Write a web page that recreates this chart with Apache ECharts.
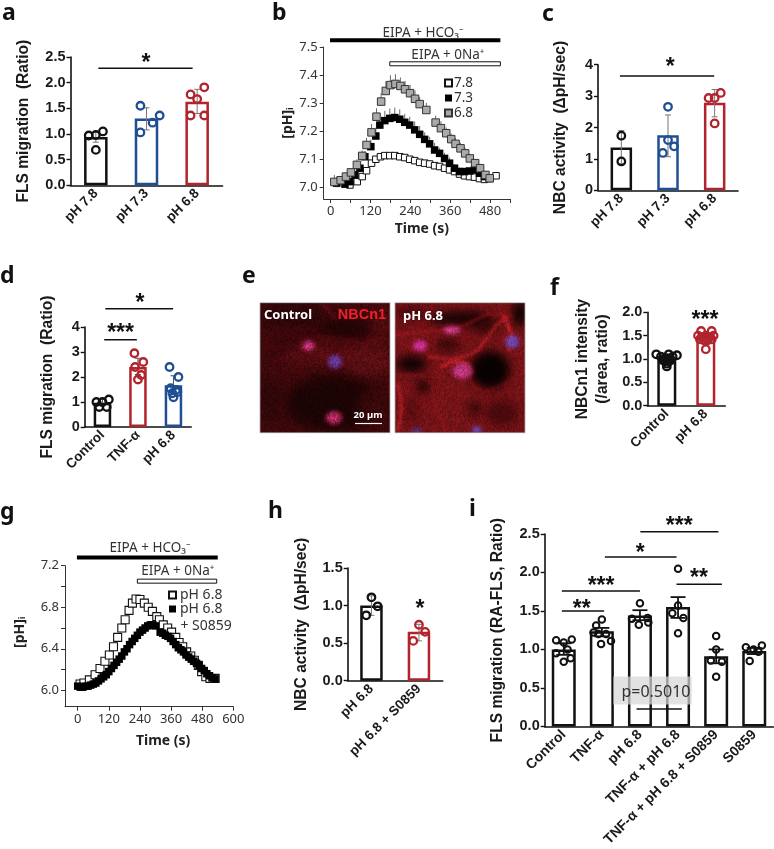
<!DOCTYPE html>
<html><head><meta charset="utf-8">
<script src="https://cdn.jsdelivr.net/npm/echarts@6/dist/echarts.min.js"></script>
<style>html,body{margin:0;padding:0;background:#fff}#c{width:774px;height:849px}</style></head>
<body><div id="c"></div>
<script>
// ---------- data ----------
const BLACK='#111111',BLUE='#1f4e94',RED='#b2232c';
// a
const aCats=['pH 7.8','pH 7.3','pH 6.8'];
const aBars=[0.94,1.30,1.63];
const aErrLow=[0.84,1.08,1.40];
const aErrHigh=[1.04,1.51,1.87];
const aPoints=[[0,-.14,.97],[0,0,.98],[0,.14,1.05],[0,0,.69],[1,-.12,1.55],[1,.26,1.36],[1,.12,1.22],[1,-.12,1.03],[2,.14,1.91],[2,-.13,1.77],[2,0,1.68],[2,-.13,1.36],[2,.14,1.36]];
// c
const cCats=['pH 7.8','pH 7.3','pH 6.8'];
const cBars=[1.36,1.75,2.79];
const cErrLow=[.85,1.07,2.34];
const cErrHigh=[1.9,2.4,3.21];
const cPoints=[[0,0,1.74],[0,0,.92],[1,0,2.66],[1,0,1.6],[1,.13,1.4],[1,-.11,1.19],[2,.13,3.1],[2,0,2.94],[2,-.13,2.94],[2,0,2.13]];
// d
const dCats=['Control','TNF-α','pH 6.8'];
const dBars=[.97,2.4,1.67];
const dErrLow=[.85,2.1,1.35];
const dErrHigh=[1.1,2.75,2.05];
const dPoints=[[0,-.17,1],[0,.18,1.1],[0,0,1],[0,-.09,.8],[0,.12,.8],[1,-.1,2.95],[1,.15,2.6],[1,-.08,2.4],[1,.09,2.08],[1,0,1.9],[2,-.11,2.4],[2,.14,2.0],[2,-.08,1.55],[2,.07,1.48],[2,0,1.19],[2,.11,1.4],[2,-.03,1.35]];
// f
const fCats=['Control','pH 6.8'];
const fBars=[1.0,1.5];
const fErrLow=[.97,1.45];
const fErrHigh=[1.03,1.55];
const fPoints=[[0,-.27,1.1],[0,.26,1.08],[0,.05,1.1],[0,-.15,1.05],[0,.15,1.05],[0,-.08,1.0],[0,0,1.02],[0,.08,1.0],[0,-.05,.95],[0,.05,.95],[0,0,.9],[0,0,.84],[0,-.1,.97],[0,.1,.97],[1,-.12,1.6],[1,.15,1.6],[1,-.2,1.5],[1,-.1,1.47],[1,0,1.45],[1,.1,1.47],[1,.2,1.5],[1,0,1.5],[1,-.05,1.4],[1,.05,1.4],[1,-.15,1.42],[1,.15,1.42],[1,0,1.21]];
// h
const hCats=['pH 6.8','pH 6.8 + S0859'];
const hBars=[1.0,.65];
const hErrLow=[.87,.53];
const hErrHigh=[1.13,.75];
const hPoints=[[0,0,1.11],[0,.13,.99],[0,-.11,.87],[1,0,.745],[1,.13,.65],[1,-.12,.53]];
// i
const iCats=['Control','TNF-α','pH 6.8','TNF-α + pH 6.8','TNF-α + pH 6.8 + S0859','S0859'];
const iBars=[1.0,1.235,1.44,1.55,.91,.98];
const iErrLow=[.93,1.17,1.38,1.41,.82,.94];
const iErrHigh=[1.08,1.28,1.51,1.68,1.0,1.02];
const iPoints=[[0,-.2,1.12],[0,.21,1.13],[0,0,1.09],[0,-.2,.95],[0,.18,.885],[0,0,.84],[0,.1,1.0],
[1,0,1.39],[1,-.15,1.31],[1,-.22,1.22],[1,-.09,1.2],[1,.11,1.2],[1,.24,1.11],[1,-.02,1.07],
[2,0,1.6],[2,-.21,1.4],[2,.2,1.41],[2,-.03,1.32],[2,.22,1.35],
[3,0,2.05],[3,0,1.57],[3,-.15,1.47],[3,.14,1.41],[3,0,1.21],
[4,0,1.175],[4,0,1.0],[4,.15,.84],[4,-.14,.855],[4,0,.645],
[5,.2,1.05],[5,-.22,1.03],[5,-.02,1.0],[5,-.12,.85],[5,.11,.97]];
// b
const bTime78=[18,58,80,95,108,123,136,150,163,178,193,208,223,238,253,268,283,298,313,328,343,358,373,388,403,418,433,448,463,478,498];
const bVal78=[7.013,7.007,7.019,7.037,7.058,7.085,7.099,7.108,7.112,7.112,7.112,7.108,7.105,7.099,7.094,7.088,7.085,7.082,7.076,7.073,7.067,7.061,7.055,7.046,7.040,7.037,7.035,7.030,7.027,7.030,7.040];
const bTime73=[18,43,58,73,88,103,121,136,148,163,178,193,208,223,238,253,268,283,298,313,328,343,358,373,388,403,418,433,448,463,478];
const bVal73=[7.015,7.010,7.019,7.043,7.067,7.108,7.144,7.182,7.221,7.237,7.245,7.248,7.242,7.231,7.221,7.204,7.188,7.170,7.154,7.132,7.120,7.102,7.085,7.067,7.055,7.055,7.057,7.061,7.049,7.037,7.031];
const bErr73=[.02,.01,.01,.015,.02,.02,.025,.03,.03,.035,.035,.035,.035,.03,.03,.03,.03,.025,.025,.025,.02,.02,.02,.015,.015,.01,.01,.01,.01,.01,.01];
const bTime68=[11,30,46,61,79,95,108,123,138,152,166,180,195,210,224,239,254,268,288,316,332,348,363,376,391,405,419,435,450,466,479];
const bVal68=[7.018,7.024,7.037,7.052,7.079,7.111,7.150,7.195,7.251,7.305,7.343,7.364,7.368,7.361,7.349,7.335,7.315,7.296,7.275,7.230,7.210,7.192,7.171,7.154,7.138,7.120,7.102,7.085,7.067,7.043,7.031];
const bErr68=[.025,.015,.015,.015,.02,.02,.025,.03,.03,.03,.035,.035,.035,.03,.03,.03,.03,.025,.025,.025,.025,.02,.02,.02,.02,.02,.015,.015,.015,.01,.01];
// g
const gTimeCtl=[9,24,45,67,86,105,122,138,154,170,183,198,211,225,240,257,272,288,305,315,330,347,362,378,391,405,420,436,450,465,478,494,510,530];
const gValCtl=[6.06,6.07,6.10,6.15,6.21,6.28,6.34,6.42,6.51,6.60,6.68,6.77,6.84,6.88,6.875,6.84,6.80,6.76,6.71,6.68,6.63,6.60,6.56,6.51,6.46,6.42,6.37,6.33,6.29,6.24,6.18,6.13,6.115,6.115];
const gTimeS=[0,10,20,30,40,50,60,70,80,90,100,110,120,130,140,150,160,170,180,190,200,210,220,230,240,250,260,270,280,290,300,318,328,338,348,358,368,378,388,398,408,418,428,438,448,458,468,478,488,498,508,518,530];
const gValS=[6.04,6.03,6.03,6.04,6.04,6.05,6.06,6.07,6.09,6.11,6.13,6.15,6.18,6.21,6.24,6.27,6.30,6.33,6.37,6.40,6.44,6.47,6.50,6.53,6.56,6.58,6.60,6.62,6.63,6.63,6.62,6.56,6.55,6.53,6.52,6.50,6.47,6.44,6.41,6.39,6.37,6.34,6.32,6.30,6.28,6.26,6.24,6.21,6.19,6.16,6.14,6.12,6.11];
// ---------- layout ----------
const ARIAL='"Liberation Sans",Arial,sans-serif', NOTO='"Noto Sans",sans-serif';
const grid=[],xAxis=[],yAxis=[],series=[];
function annot(xi,yi,list){
  series.push({type:'custom',xAxisIndex:xi,yAxisIndex:yi,clip:false,silent:true,z:6,
    data:list.map((a,k)=>[k,0]),
    renderItem(p,api){
      const a=list[api.value(0)];
      if(a.t==='line'){const s=api.coord([a.x0,a.y]),e=api.coord([a.x1,a.y]);
        return {type:'line',shape:{x1:s[0],y1:s[1],x2:e[0],y2:e[1]},style:{stroke:'#111',lineWidth:a.w||1.5}};}
      if(a.t==='solid'||a.t==='open'){const s=api.coord([a.x0,a.y]),e=api.coord([a.x1,a.y]);
        return {type:'rect',shape:{x:s[0],y:s[1]-2,width:e[0]-s[0],height:4},
          style:a.t==='solid'?{fill:'#000'}:{fill:'#fff',stroke:'#111',lineWidth:1}};}
      if(a.t==='box'){const s=api.coord([a.x0,a.y1]),e=api.coord([a.x1,a.y0]);
        return {type:'rect',shape:{x:s[0],y:s[1],width:e[0]-s[0],height:e[1]-s[1]},style:{fill:'rgba(215,215,215,0.72)'}};}
      const c=api.coord([a.x,a.y]);
      return {type:'text',x:c[0],y:c[1],style:{text:a.text,align:'center',verticalAlign:'middle',
        font:a.font||('bold 23px '+ARIAL),fill:a.fill||'#111'}};
    }});
}
function barPanel(o){
  const gi=grid.length,n=o.cats.length;
  grid.push({left:o.left,top:o.top,width:o.width,height:o.height});
  const xi=xAxis.length;
  xAxis.push({gridIndex:gi,type:'category',data:o.cats,
    axisLine:{lineStyle:{color:'#111',width:1.6}},
    axisTick:{alignWithLabel:true,length:4,lineStyle:{color:'#111',width:1.4}},
    axisLabel:{rotate:45,interval:0,margin:o.margin||6,color:'#1a1a1a',fontFamily:ARIAL,fontWeight:'bold',fontSize:o.catSize||13.5}});
  xAxis.push({gridIndex:gi,type:'value',min:0,max:n,show:false});
  const yi=yAxis.length;
  yAxis.push({gridIndex:gi,type:'value',min:0,max:o.max,interval:o.step,splitLine:{show:false},
    name:o.title,nameLocation:'middle',nameGap:o.nameGap,nameRotate:90,
    nameTextStyle:{color:'#1a1a1a',fontFamily:ARIAL,fontWeight:'bold',fontSize:o.titleSize||15.6,lineHeight:20},
    axisLine:{show:true,lineStyle:{color:'#111',width:1.6}},
    axisTick:{show:true,length:4,lineStyle:{color:'#111',width:1.4}},
    axisLabel:{margin:5,color:'#1a1a1a',fontFamily:ARIAL,fontWeight:'bold',fontSize:14.5,formatter:v=>v.toFixed(o.dec)}});
  series.push({type:'bar',xAxisIndex:xi,yAxisIndex:yi,barWidth:o.barW,z:2,silent:true,
    data:o.bars.map((v,k)=>({value:v,itemStyle:{color:'rgba(255,255,255,0)',borderColor:o.colors[k],borderWidth:o.barLine||2.5}}))});
  series.push({type:'custom',xAxisIndex:xi+1,yAxisIndex:yi,z:3,silent:true,clip:false,
    data:o.bars.map((v,k)=>[k+.5,o.low[k],o.high[k]]),
    renderItem(p,api){
      const t=api.coord([api.value(0),api.value(2)]),b=api.coord([api.value(0),api.value(1)]),c=o.cap||3,st={stroke:o.errColor||'#777',lineWidth:o.errW||1};
      return {type:'group',children:[
        {type:'line',shape:{x1:t[0],y1:t[1],x2:b[0],y2:b[1]},style:st},
        {type:'line',shape:{x1:t[0]-c,y1:t[1],x2:t[0]+c,y2:t[1]},style:st},
        {type:'line',shape:{x1:b[0]-c,y1:b[1],x2:b[0]+c,y2:b[1]},style:st}]};
    }});
  series.push({type:'scatter',xAxisIndex:xi+1,yAxisIndex:yi,z:4,silent:true,symbol:'circle',symbolSize:o.dot||7.5,
    data:o.points.map(q=>({value:[q[0]+.5+q[1],q[2]],itemStyle:{opacity:1,color:'rgba(255,255,255,0)',borderColor:o.colors[q[0]],borderWidth:o.dotLine||2.3}}))});
  annot(xi+1,yi,o.notes||[]);
}
barPanel({cats:aCats,bars:aBars,low:aErrLow,high:aErrHigh,points:aPoints,colors:[BLACK,BLUE,RED],
  left:70.5,top:57,width:152,height:128.3,max:2.5,step:.5,dec:1,barW:23.5,title:'FLS migration  (Ratio)',nameGap:36.5,
  notes:[{t:'line',x0:.55,x1:2.41,y:2.28},{t:'text',x:1.49,y:2.37,text:'*'}]});
barPanel({cats:cCats,bars:cBars,low:cErrLow,high:cErrHigh,points:cPoints,colors:[BLACK,BLUE,RED],
  left:598,top:64.7,width:140,height:125.6,max:4,step:1,dec:0,barW:21.5,title:'NBC activity  (ΔpH/sec)',nameGap:27,
  notes:[{t:'line',x0:.47,x1:2.49,y:3.64},{t:'text',x:1.55,y:3.92,text:'*'}]});
barPanel({cats:dCats,bars:dBars,low:dErrLow,high:dErrHigh,points:dPoints,colors:[BLACK,RED,BLUE],
  left:84.7,top:327,width:106.5,height:100,max:4,step:1,dec:0,barW:17.5,title:'FLS migration  (Ratio)',nameGap:27,errColor:'#555',
  notes:[{t:'line',x0:.55,x1:1.47,y:3.49},{t:'line',x0:.58,x1:2.49,y:4.73},{t:'text',x:1.01,y:3.73,text:'***'},{t:'text',x:1.56,y:4.93,text:'*'}]});
barPanel({cats:fCats,bars:fBars,low:fErrLow,high:fErrHigh,points:fPoints,colors:[BLACK,RED],
  left:647.3,top:312.3,width:78,height:93.4,max:2,step:.5,dec:1,barW:19,title:'NBCn1 intensity\n(/area, ratio)',nameGap:35,titleSize:15.6,
  dot:7.5,notes:[{t:'text',x:1.48,y:1.82,text:'***'}]});
barPanel({cats:hCats,bars:hBars,low:hErrLow,high:hErrHigh,points:hPoints,colors:[BLACK,RED],
  left:347.7,top:568,width:95,height:112.7,max:1.5,step:.5,dec:1,barW:22.5,title:'NBC activity  (ΔpH/sec)',nameGap:36,
  notes:[{t:'text',x:1.52,y:.95,text:'*'}]});
barPanel({cats:iCats,bars:iBars,low:iErrLow,high:iErrHigh,points:iPoints,colors:[BLACK,BLACK,BLACK,BLACK,BLACK,BLACK],
  left:544.7,top:534,width:228.6,height:195,max:2.5,step:.5,dec:1,barW:24,title:'FLS migration (RA-FLS, Ratio)',nameGap:37,catSize:14,
  dot:6.5,dotLine:2,errColor:'#111',errW:1.8,cap:7.5,
  notes:[{t:'line',x0:.45,x1:1.56,y:1.5},{t:'line',x0:.45,x1:2.5,y:1.76},{t:'line',x0:1.58,x1:3.46,y:2.2},{t:'line',x0:2.51,x1:4.56,y:2.53},{t:'line',x0:3.46,x1:4.65,y:1.846},
    {t:'text',x:.97,y:1.52,text:'**'},{t:'text',x:1.48,y:1.82,text:'***'},{t:'text',x:2.51,y:2.24,text:'*'},{t:'text',x:3.53,y:2.6,text:'***'},{t:'text',x:4.05,y:1.92,text:'**'},
    {t:'box',x0:1.8,x1:3.86,y0:.286,y1:.65},{t:'line',x0:2.41,x1:3.6,y:.226},
    {t:'text',x:2.92,y:.444,text:'p=0.5010',font:'16px '+NOTO,fill:'#333'}]});
// time-course panels
function timePanel(o){
  const gi=grid.length,xi=xAxis.length,yi=yAxis.length;
  grid.push({left:o.left,top:o.top,width:o.width,height:o.height});
  xAxis.push({gridIndex:gi,type:'value',min:o.xMin,max:o.xMax,splitLine:{show:false},
    name:o.xTitle,nameLocation:'middle',nameGap:o.xGap,nameTextStyle:{color:'#222',fontFamily:NOTO,fontWeight:'bold',fontSize:14,padding:[0,0,0,o.xShift||0]},
    axisLine:{onZero:false,lineStyle:{color:'#333',width:1}},
    axisTick:{length:4,customValues:o.xTicks,lineStyle:{color:'#333',width:1}},
    axisLabel:{customValues:o.xLabels,margin:6,color:'#333',fontFamily:NOTO,fontSize:13}});
  yAxis.push({gridIndex:gi,type:'value',min:o.yMin,max:o.yMax,splitLine:{show:false},
    name:'[pH]{s|i}',nameLocation:'middle',nameGap:o.yGap,nameRotate:90,
    nameTextStyle:{color:'#222',fontFamily:NOTO,fontWeight:'bold',fontSize:14,rich:{s:{fontFamily:NOTO,fontWeight:'bold',fontSize:9,color:'#222',verticalAlign:'bottom'}},padding:[0,0,0,o.yShift||0]},
    axisLine:{show:true,onZero:false,lineStyle:{color:'#333',width:1}},
    axisTick:{show:true,length:4,customValues:o.yTicks,lineStyle:{color:'#333',width:1}},
    axisLabel:{customValues:o.yLabels,margin:6,color:'#333',fontFamily:NOTO,fontSize:13,formatter:v=>(+v).toFixed(1)}});
  o.lines.forEach(l=>{
    if(l.err) series.push({type:'custom',xAxisIndex:xi,yAxisIndex:yi,silent:true,z:3,
      data:l.t.map((t,k)=>[t,l.v[k],l.v[k]+l.err[k]]),
      renderItem(p,api){const a=api.coord([api.value(0),api.value(1)]),b=api.coord([api.value(0),api.value(2)]);
        return {type:'line',shape:{x1:a[0],y1:a[1],x2:b[0],y2:b[1]},style:{stroke:'#444',lineWidth:.8}};}});
    series.push({type:'scatter',name:l.name,xAxisIndex:xi,yAxisIndex:yi,silent:true,z:l.z,symbol:'rect',symbolSize:l.size,
      itemStyle:Object.assign({opacity:1},l.style),data:l.t.map((t,k)=>[t,l.v[k]])});
  });
  annot(xi,yi,o.notes);
}
const SM='13.5px '+NOTO;
timePanel({left:323.7,top:47,width:186.3,height:152,xMin:-21,xMax:540,yMin:6.957,yMax:7.5,
  xTicks:[0,60,120,180,240,300,360,420,480,540],xLabels:[0,120,240,360,480],yTicks:[7,7.1,7.2,7.3,7.4,7.5],yLabels:[7,7.1,7.2,7.3,7.4,7.5],
  xTitle:'Time (s)',xGap:23,yGap:29,xShift:10,
  lines:[
   {name:'7.8',t:bTime78,v:bVal78,size:6.5,z:4,style:{color:'#fff',borderColor:'#111',borderWidth:1}},
   {name:'7.3',t:bTime73,v:bVal73,size:7.5,z:5,err:bErr73,style:{color:'#000'}},
   {name:'6.8',t:bTime68,v:bVal68,size:7.5,z:6,err:bErr68,style:{color:'#aaa',borderColor:'#333',borderWidth:1}}],
  notes:[{t:'solid',x0:-2,x1:511,y:7.524},{t:'open',x0:178,x1:511,y:7.44},
   {t:'text',x:278,y:7.551,text:'EIPA + HCO₃⁻',font:SM,fill:'#333'},{t:'text',x:353,y:7.471,text:'EIPA + 0Na⁺',font:SM,fill:'#333'}]});
timePanel({left:65,top:565.7,width:168.3,height:141,xMin:-49,xMax:600,yMin:5.842,yMax:7.2,
  xTicks:[0,120,240,360,480,600],xLabels:[0,120,240,360,480,600],yTicks:[6,6.2,6.4,6.6,6.8,7,7.2],yLabels:[6,6.4,6.8,7.2],
  xTitle:'Time (s)',xGap:27,yGap:38,xShift:28,yShift:8,
  lines:[
   {name:'pH 6.8',t:gTimeCtl,v:gValCtl,size:8,z:4,style:{color:'#fff',borderColor:'#111',borderWidth:1.1}},
   {name:'pH 6.8 + S0859',t:gTimeS,v:gValS,size:7.5,z:5,style:{color:'#000'}}],
  notes:[{t:'solid',x0:-3,x1:540,y:7.279},{t:'open',x0:230,x1:536,y:7.051},
   {t:'text',x:279,y:7.365,text:'EIPA + HCO₃⁻',font:SM,fill:'#333'},{t:'text',x:386,y:7.15,text:'EIPA + 0Na⁺',font:SM,fill:'#333'},
   {t:'text',x:495,y:6.62,text:'+ S0859',font:'14px '+NOTO,fill:'#333'}]});
const legend=[
 {left:439,top:71,orient:'vertical',itemWidth:7,itemHeight:7,itemGap:1,data:['7.8','7.3','6.8'],selectedMode:false,textStyle:{fontFamily:NOTO,fontSize:13.5,color:'#333',padding:[0,0,0,-3]}},
 {left:163,top:583,orient:'vertical',itemWidth:7,itemHeight:7,itemGap:0,data:['pH 6.8','pH 6.8 + S0859'],selectedMode:false,formatter:()=>'pH 6.8',textStyle:{fontFamily:NOTO,fontSize:14,color:'#333',padding:[0,0,0,-1]}}
];
// ---------- micrograph panel (e) ----------
function micro(draw){
  const cv=document.createElement('canvas');cv.width=130;cv.height=130;const c=cv.getContext('2d');draw(c);return cv;
}
function ell(c,x,y,rx,ry,col,rot){c.fillStyle=col;c.beginPath();c.ellipse(x,y,rx,ry,rot||0,0,7);c.fill();}
function poly(c,pts,col,w){c.strokeStyle=col;c.lineWidth=w;c.lineCap='round';c.beginPath();pts.forEach((p,i)=>i?c.lineTo(p[0],p[1]):c.moveTo(p[0],p[1]));c.stroke();}
function grain(c,amt){ // fixed surface texture of the photo, no chart value depends on it
  const d=c.getImageData(0,0,130,130);
  for(let y=0;y<130;y++)for(let x=0;x<130;x++){const s=Math.sin(x*12.9898+y*78.233)*43758.5453,k=s-Math.floor(s)-.5,i=(y*130+x)*4;
    d.data[i]=Math.min(255,d.data[i]*(1+amt*k));d.data[i+1]*=1+amt*k*.6;d.data[i+2]*=1+amt*k*.6;}
  c.putImageData(d,0,0);
}
function nuc(c,x,y,rx,ry,core,edge){const g=c.createRadialGradient(x,y,1,x,y,Math.max(rx,ry));g.addColorStop(0,core);g.addColorStop(.7,core);g.addColorStop(1,edge);
  c.fillStyle=g;c.beginPath();c.ellipse(x,y,rx,ry,0,0,7);c.fill();}
const imgL=micro(c=>{
  c.setTransform(1/3,0,0,1/3,-5,-128/3);
  c.fillStyle='#3f090c';c.fillRect(0,0,1300,1300);
  c.filter='blur(6px)';
  ell(c,110,165,100,35,'#2a0608');ell(c,270,205,85,28,'#200405');ell(c,95,265,42,14,'#1a0304');
  ell(c,235,430,145,85,'#1c0405');ell(c,45,420,35,70,'#2d0709');ell(c,380,190,30,60,'#4f0b0e');
  ell(c,200,285,130,30,'#570d11');ell(c,340,300,70,50,'#5a0f13');ell(c,360,440,50,60,'#3a080a');
  c.filter='blur(2px)';
  poly(c,[[200,130],[225,155],[240,175]],'#7d1115',4);poly(c,[[185,230],[260,240],[340,250],[395,240]],'#8a1419',3);
  poly(c,[[340,290],[375,300],[400,320]],'#7e1317',3);poly(c,[[20,265],[90,255],[150,262]],'#6a1013',3);
  c.filter='blur(2px)';
  nuc(c,160,257,19,15,'#cf3583','#b0142a');nuc(c,240,305,22,20,'#5f3aa0','#8f1f5e');nuc(c,237,473,25,18,'#c92c6c','#a0122c');
  c.filter='none';c.setTransform(1,0,0,1,0,0);grain(c,.7);
});
const imgR=micro(c=>{
  c.setTransform(1/3,0,0,1/3,-140,-128/3);
  c.fillStyle='#741317';c.fillRect(0,0,1300,1300);
  c.filter='blur(5px)';
  ell(c,620,175,100,22,'#180304');ell(c,470,160,45,18,'#3a0709');ell(c,795,160,22,40,'#0c0101');ell(c,690,200,40,16,'#2b0506');
  ell(c,705,330,60,58,'#090101');ell(c,470,312,46,26,'#100203');ell(c,505,378,20,20,'#140203');ell(c,580,255,38,18,'#300607');
  ell(c,660,445,22,16,'#250405');ell(c,740,460,50,40,'#4a0a0d');ell(c,470,450,25,40,'#5a0c10');
  c.filter='blur(1.5px)';
  poly(c,[[420,225],[500,215],[570,212],[620,200],[700,160],[770,170]],'#c01c23',3.5);
  poly(c,[[520,290],[600,300],[670,270],[720,200],[750,175]],'#c2222a',6);
  poly(c,[[750,175],[772,230],[762,270]],'#c2222a',10);poly(c,[[425,345],[500,345],[530,370],[540,430],[570,515]],'#b01a20',3);
  poly(c,[[430,370],[440,440],[430,515]],'#cf242a',6);poly(c,[[640,350],[660,385],[700,395],[800,345]],'#9c161b',3);
  poly(c,[[560,320],[600,300],[640,315]],'#b81f25',12);
  c.filter='blur(2px)';
  nuc(c,590,210,27,11,'#cf4090','#a8285a');nuc(c,495,257,23,16,'#cc309a','#a8184a');nuc(c,772,245,22,19,'#6449b8','#a01e52');
  nuc(c,622,333,32,23,'#c03680','#a21838');nuc(c,665,510,16,10,'#5f4cc0','#802c80');nuc(c,485,512,17,6,'#4642b0','#581e70');
  c.filter='none';c.setTransform(1,0,0,1,0,0);grain(c,.5);
});
const letter=(t,x,y)=>({type:'text',left:x,top:y,z:20,style:{text:t,font:'bold 23px '+NOTO,fill:'#111'}});
const label=(t,x,y,f,col)=>({type:'text',z:20,x:x,y:y,style:{text:t,align:'center',verticalAlign:'middle',font:f,fill:col}});
const graphic=[
 letter('a',2,2),letter('b',272,2),letter('c',542,3),letter('d',0,265),letter('e',242,265),letter('f',550,277),letter('g',0,501),letter('h',268,500),letter('i',469,498),
 {type:'image',x:260,y:302.7,z:10,style:{image:imgL,x:0,y:0,width:130,height:130}},
 {type:'image',x:395,y:302.7,z:10,style:{image:imgR,x:0,y:0,width:130,height:130}},
 {type:'rect',z:11,shape:{x:260,y:302.7,width:130,height:130},style:{fill:'none',stroke:'#aaa',lineWidth:.8}},
 {type:'rect',z:11,shape:{x:395,y:302.7,width:130,height:130},style:{fill:'none',stroke:'#aaa',lineWidth:.8}},
 label('Control',288,315,'bold 13px '+NOTO,'#fff'),label('NBCn1',362,315,'bold 14.5px '+ARIAL,'#f2202a'),
 label('pH 6.8',423,316.5,'bold 13px '+NOTO,'#fff'),label('20 µm',368,415,'bold 9.5px '+NOTO,'#fff'),
 {type:'line',z:20,shape:{x1:355,y1:423.5,x2:382,y2:423.5},style:{stroke:'#fff',lineWidth:1.2}}
];
const chart=echarts.init(document.getElementById('c'),null,{renderer:'canvas'});
chart.setOption({animation:false,backgroundColor:'#fff',tooltip:{show:false},grid,xAxis,yAxis,series,legend,graphic});
</script></body></html>
